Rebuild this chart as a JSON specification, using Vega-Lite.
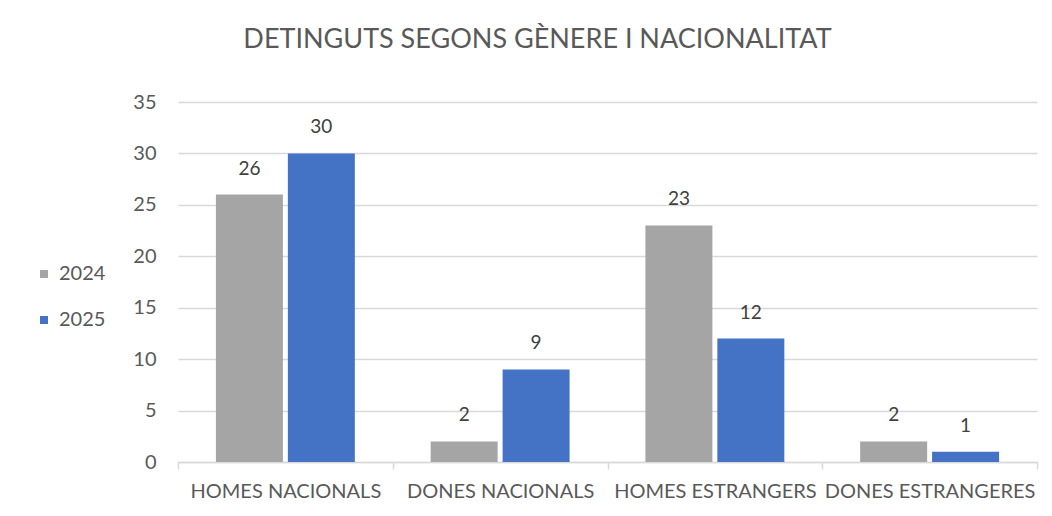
{
  "$schema": "https://vega.github.io/schema/vega-lite/v6.json",
  "autosize": "none",
  "width": 859,
  "height": 360,
  "padding": {"left": 178, "top": 102, "right": 15, "bottom": 54},
  "background": "white",
  "title": {
    "text": "DETINGUTS SEGONS GÈNERE I NACIONALITAT",
    "fontSize": 27,
    "font": "Lato",
    "fontWeight": "normal",
    "color": "#595959",
    "anchor": "middle",
    "dx": -70,
    "offset": 38
  },
  "data": {
    "values": [
      {"categoria": "HOMES NACIONALS", "any": "2024", "valor": 26},
      {"categoria": "HOMES NACIONALS", "any": "2025", "valor": 30},
      {"categoria": "DONES NACIONALS", "any": "2024", "valor": 2},
      {"categoria": "DONES NACIONALS", "any": "2025", "valor": 9},
      {"categoria": "HOMES ESTRANGERS", "any": "2024", "valor": 23},
      {"categoria": "HOMES ESTRANGERS", "any": "2025", "valor": 12},
      {"categoria": "DONES ESTRANGERES", "any": "2024", "valor": 2},
      {"categoria": "DONES ESTRANGERES", "any": "2025", "valor": 1}
    ]
  },
  "encoding": {
    "x": {
      "field": "categoria",
      "type": "nominal",
      "sort": null,
      "scale": {"paddingInner": 0, "paddingOuter": 0},
      "axis": {
        "title": null,
        "labelAngle": 0,
        "labelFont": "Lato",
        "labelFontSize": 20,
        "labelColor": "#595959",
        "labelPadding": 12,
        "domainColor": "#d9d9d9",
        "domainWidth": 1.5,
        "tickColor": "#d9d9d9",
        "tickWidth": 1.5,
        "tickSize": 7,
        "tickBand": "extent",
        "labelLimit": 0
      }
    },
    "xOffset": {
      "field": "any",
      "type": "nominal",
      "scale": {"paddingInner": 0.069, "paddingOuter": 0.527}
    },
    "y": {
      "field": "valor",
      "type": "quantitative",
      "scale": {"domain": [0, 35]},
      "axis": {
        "title": null,
        "values": [0, 5, 10, 15, 20, 25, 30, 35],
        "labelOverlap": false,
        "domain": false,
        "ticks": false,
        "labelFont": "Lato",
        "labelFontSize": 20,
        "labelColor": "#595959",
        "labelPadding": 22,
        "gridColor": "#d9d9d9",
        "gridWidth": 1.5
      }
    }
  },
  "layer": [
    {
      "mark": {"type": "bar"},
      "encoding": {
        "color": {
          "field": "any",
          "type": "nominal",
          "scale": {"domain": ["2024", "2025"], "range": ["#a5a5a5", "#4472c4"]},
          "legend": {
            "title": null,
            "orient": "none",
            "legendX": -144,
            "legendY": 162,
            "symbolType": "square",
            "symbolSize": 64,
            "symbolStrokeWidth": 0,
            "labelFont": "Lato",
            "labelFontSize": 20,
            "labelColor": "#595959",
            "rowPadding": 26,
            "labelOffset": 5
          }
        }
      }
    },
    {
      "mark": {"type": "text", "dy": -20, "baseline": "alphabetic", "font": "Lato", "fontSize": 19, "color": "#404040"},
      "encoding": {"text": {"field": "valor", "type": "quantitative"}}
    }
  ],
  "config": {"view": {"stroke": null}}
}
